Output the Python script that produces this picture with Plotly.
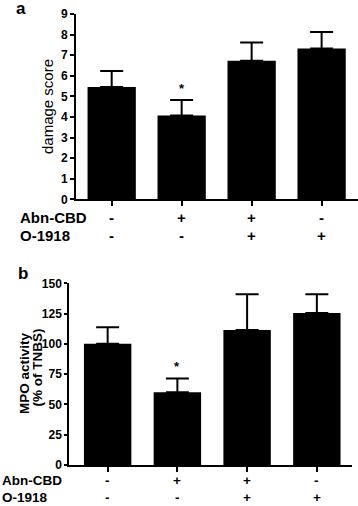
import plotly.graph_objects as go

# ---- data ----
groups = ["Vehicle", "Abn-CBD", "Abn-CBD + O-1918", "O-1918"]
abn_cbd = ["-", "+", "+", "-"]
o1918 = ["-", "-", "+", "+"]

damage_mean = [5.45, 4.07, 6.73, 7.33]
damage_sem = [0.78, 0.75, 0.88, 0.79]

mpo_mean = [100, 60, 111.5, 125.5]
mpo_sem = [13.7, 11.5, 29.5, 15.5]

damage_ticks = list(range(0, 10))
mpo_ticks = [0, 25, 50, 75, 100, 125, 150]

W, H = 358, 506
FONT = "Liberation Sans, Arial, sans-serif"

def px_x(p):
    return p / W

def px_y(p):
    return 1 - p / H

fig = go.Figure()

fig.add_trace(go.Bar(
    x=groups, y=damage_mean, width=0.69, marker=dict(color="black", line=dict(width=0)),
    error_y=dict(type="data", array=damage_sem, arrayminus=[0] * 4, symmetric=False,
                 color="black", thickness=2, width=11.5),
    xaxis="x", yaxis="y", showlegend=False, hoverinfo="skip"))

fig.add_trace(go.Bar(
    x=groups, y=mpo_mean, width=0.68, marker=dict(color="black", line=dict(width=0)),
    error_y=dict(type="data", array=mpo_sem, arrayminus=[0] * 4, symmetric=False,
                 color="black", thickness=2, width=11.5),
    xaxis="x2", yaxis="y2", showlegend=False, hoverinfo="skip"))

line_common = dict(showline=True, linecolor="black", linewidth=2, ticks="outside",
                   tickcolor="black", tickwidth=2, showgrid=False, zeroline=False)
tick_font = dict(family=FONT, size=12, color="black", weight="bold")

fig.update_layout(
    width=W, height=H, margin=dict(l=0, r=0, t=0, b=0, autoexpand=False),
    paper_bgcolor="white", plot_bgcolor="white", bargap=0.3,
    xaxis=dict(domain=[px_x(76), 1.0], range=[-0.51, 3.52], showticklabels=False,
               ticklen=5, anchor="y", **line_common),
    yaxis=dict(domain=[px_y(199.3), px_y(14)], range=[0, 9], tickvals=damage_ticks,
               ticklen=4, anchor="x", tickfont=tick_font, automargin=False, **line_common),
    xaxis2=dict(domain=[px_x(69.3), px_x(351.7)], range=[-0.55, 3.5], showticklabels=False,
                ticklen=5, anchor="y2", **line_common),
    yaxis2=dict(domain=[px_y(465), px_y(283.3)], range=[0, 150], tickvals=mpo_ticks,
                ticklen=3, anchor="x2", tickfont=tick_font, automargin=False, **line_common),
)

ann = []
letter_font = dict(family=FONT, size=17, color="black", weight="bold")

# panel letters
ann.append(dict(text="a", x=px_x(14), y=px_y(8), xref="paper", yref="paper",
                showarrow=False, xanchor="left", yanchor="middle", font=letter_font))
ann.append(dict(text="b", x=px_x(16), y=px_y(273), xref="paper", yref="paper",
                showarrow=False, xanchor="left", yanchor="middle", font=letter_font))

# y titles
ann.append(dict(text="damage score", x=px_x(47), y=px_y(107), xref="paper", yref="paper",
                showarrow=False, textangle=-90, xanchor="center", yanchor="middle",
                font=dict(family=FONT, size=15, color="black")))
ann.append(dict(text="MPO activity", x=px_x(24), y=px_y(373), xref="paper", yref="paper",
                showarrow=False, textangle=-90, xanchor="center", yanchor="middle",
                font=dict(family=FONT, size=13.5, color="black", weight="bold")))
ann.append(dict(text="(% of TNBS)", x=px_x(36.5), y=px_y(368), xref="paper", yref="paper",
                showarrow=False, textangle=-90, xanchor="center", yanchor="middle",
                font=dict(family=FONT, size=13.5, color="black", weight="bold")))

# condition rows
rows = [("x", px_y(217.7), px_y(235.7), px_x(18), 15),
        ("x2", px_y(480.5), px_y(497.0), px_x(0), 13.5)]
for xref, ya, yo, xl, fs in rows:
    lab_font = dict(family=FONT, size=fs, color="black", weight="bold")
    ann.append(dict(text="Abn-CBD", x=xl, y=ya, xref="paper", yref="paper", showarrow=False,
                    xanchor="left", yanchor="middle", font=lab_font))
    ann.append(dict(text="O-1918", x=xl, y=yo, xref="paper", yref="paper", showarrow=False,
                    xanchor="left", yanchor="middle", font=lab_font))
    for g, a, o in zip(groups, abn_cbd, o1918):
        ann.append(dict(text=a, x=g, y=ya, xref=xref, yref="paper", showarrow=False,
                        xanchor="center", yanchor="middle", font=lab_font))
        ann.append(dict(text=o, x=g, y=yo, xref=xref, yref="paper", showarrow=False,
                        xanchor="center", yanchor="middle", font=lab_font))

# significance stars
star_font = dict(family=FONT, size=13, color="black", weight="bold")
ann.append(dict(text="*", x=groups[1], y=damage_mean[1] + damage_sem[1], xref="x", yref="y",
                showarrow=False, yanchor="bottom", yshift=2, font=star_font))
ann.append(dict(text="*", x=groups[1], y=mpo_mean[1] + mpo_sem[1], xref="x2", yref="y2",
                showarrow=False, yanchor="bottom", yshift=2, font=star_font))

fig.update_layout(annotations=ann)
fig.write_html("out.html", config={"displayModeBar": False},
               post_script="document.body.style.margin='0';document.body.style.overflow='hidden';")
